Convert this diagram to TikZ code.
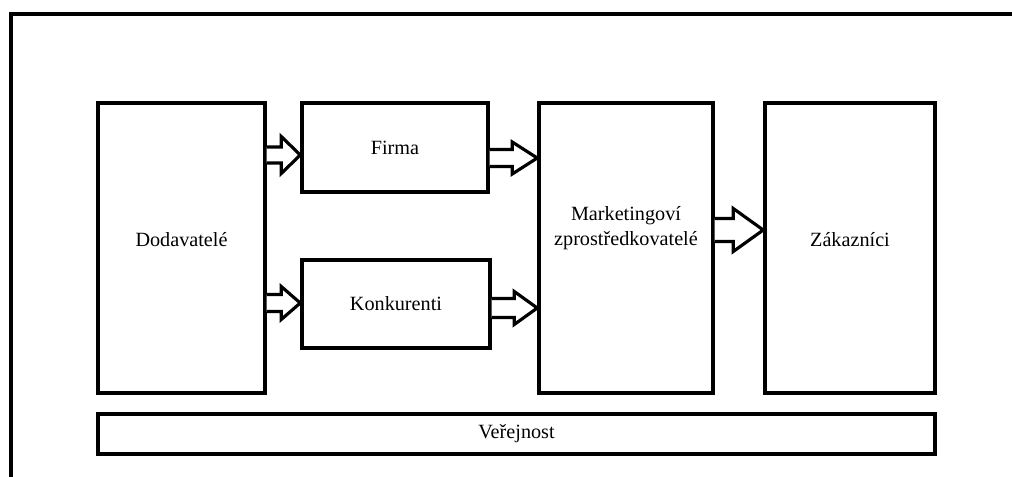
\documentclass[tikz,border=0pt]{standalone}
\usepackage{fontspec}
\setmainfont{Liberation Serif}
\usetikzlibrary{calc}

\tikzset{
    box/.style={draw, line width=2pt, rectangle, align=center, font=\fontsize{11.5}{14}\selectfont},
    boxtext/.style={align=center, font=\fontsize{11.5}{14}\selectfont},
    hollow/.style={draw, line width=1.8pt, fill=white, line join=miter},
}
% #1 from, #2 to, #3 shaft half width, #4 head half width, #5 head length
\newcommand{\blockarrow}[5]{%
    \draw[hollow] ($(#1)+(0,-#3)$) -- ($(#2)+(-#5,-#3)$) -- ($(#2)+(-#5,-#4)$) -- (#2)
        -- ($(#2)+(-#5,#4)$) -- ($(#2)+(-#5,#3)$) -- ($(#1)+(0,#3)$);
}

\begin{document}
\begin{tikzpicture}[x=0.02cm, y=-0.02cm]
            \useasboundingbox (0, 0) rectangle (1012, 477);
            \draw[line width=2pt] (1012, 14) -- (11, 14) -- (11, 477);

            \node[box, minimum width=3.34cm, minimum height=5.8cm,
                label={[boxtext, yshift=0.16cm]center:Dodavatelé}] (dod) at (181.5, 248) {};
            \node[box, minimum width=3.72cm, minimum height=1.78cm] (firma) at (395, 147.5) {Firma};
            \node[box, minimum width=3.76cm, minimum height=1.76cm] (konk) at (396, 304) {Konkurenti};
            \node[box, minimum width=3.48cm, minimum height=5.8cm,
                label={[boxtext, yshift=0.4cm]center:Marketingoví\\zprostředkovatelé}] (mkt) at (626, 248) {};
            \node[box, minimum width=3.4cm, minimum height=5.8cm,
                label={[boxtext, yshift=0.16cm]center:Zákazníci}] (zak) at (850, 248) {};
            \node[box, minimum width=16.74cm, minimum height=0.8cm] (ver) at (516.5, 434) {Veřejnost};

            \coordinate (r1) at (0, 155);
            \coordinate (r2) at (0, 158);
            \coordinate (r3) at (0, 303);
            \coordinate (r4) at (0, 308);
            \coordinate (r5) at (0, 230);

            \blockarrow{dod.east |- r1}{firma.west |- r1}{8}{18.5}{19}
            \blockarrow{dod.east |- r3}{konk.west |- r3}{8.5}{16.5}{19}
            \blockarrow{firma.east |- r2}{mkt.west |- r2}{8.5}{16}{25}
            \blockarrow{konk.east |- r4}{mkt.west |- r4}{9.5}{16.5}{23}
            \blockarrow{mkt.east |- r5}{zak.west |- r5}{11.5}{21.5}{30}
        \end{tikzpicture}
\end{document}
